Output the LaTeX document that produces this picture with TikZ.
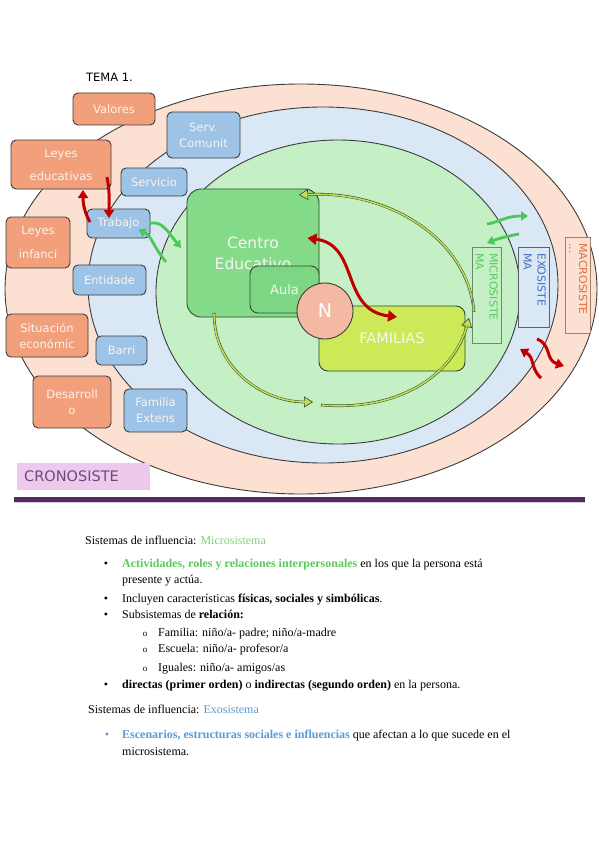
\documentclass[tikz,border=0pt]{standalone}
\usepackage{fontspec}
\setmainfont{Liberation Serif}
\newfontfamily\dv{DejaVu Sans}
\usetikzlibrary{arrows.meta}
\definecolor{peach}{HTML}{FCE1D3}
\definecolor{lblue}{HTML}{DAE7F5}
\definecolor{lgreen}{HTML}{C5F0C5}
\definecolor{orangebox}{HTML}{F2A07B}
\definecolor{bluebox}{HTML}{9DC3E6}
\definecolor{centrogreen}{HTML}{84DB8A}
\definecolor{aulagreen}{HTML}{7DD684}
\definecolor{famfill}{HTML}{CCEA58}
\definecolor{nfill}{HTML}{F3B9A2}
\definecolor{edge}{HTML}{3C3C3C}
\definecolor{darkred}{HTML}{C00000}
\definecolor{arrgreen}{HTML}{4CC85A}
\definecolor{cycfill}{HTML}{C3DE55}
\definecolor{cycdark}{HTML}{2E4A2E}
\definecolor{purplebar}{HTML}{5A2A68}
\definecolor{cronofill}{HTML}{EDC9EE}
\definecolor{cronotxt}{HTML}{6A4C78}
\definecolor{microtxt}{HTML}{5CC95C}
\definecolor{exotxt}{HTML}{4472C4}
\definecolor{macrotxt}{HTML}{E07040}
\definecolor{exoblue}{HTML}{5B9BD5}
\definecolor{boxtxt}{HTML}{FAF4EE}
\definecolor{microedge}{HTML}{6A8A6A}
\definecolor{exoedge}{HTML}{566274}
\definecolor{macroedge}{HTML}{A0806A}
\begin{document}
\begin{tikzpicture}[x=1pt,y=-1pt,
  obox/.style={draw=edge, line width=0.9pt, fill=orangebox, rounded corners=5pt, inner sep=0pt, align=center, text=boxtxt, font=\dv\fontsize{11.5}{16}\selectfont},
  bbox/.style={draw=edge, line width=0.9pt, fill=bluebox, rounded corners=5pt, inner sep=0pt, align=center, text=boxtxt, font=\dv\fontsize{11.5}{16}\selectfont},
  vbox/.style={line width=0.9pt, inner sep=0pt},
  vtext/.style={rotate=-90, anchor=north west, align=left, inner sep=0pt, font=\dv\fontsize{11}{14}\selectfont},
  redarr/.style={line width=3pt, darkred, -{Triangle[length=8pt,width=10pt]}},
  greenarr/.style={line width=2.8pt, arrgreen, -{Triangle[length=7pt,width=9pt]}},
  cyc/.style={line width=2.6pt, draw=cycdark, -{Triangle[length=9pt,width=11pt,fill=cycfill,line width=0.6pt]},
     postaction={draw=cycfill, line width=1.6pt, -, shorten >=8pt, shorten <=0.6pt}},
  txt/.style={anchor=base west, inner sep=0pt, font=\fontsize{12}{14}\selectfont},
  bul/.style={anchor=base, inner sep=0pt, font=\fontsize{12}{14}\selectfont},
]
\useasboundingbox (0,0) rectangle (599,848);
\fill[white] (0,0) rectangle (599,848);

% ellipses
\draw[fill=peach, draw=edge, line width=0.9pt] (301,289) ellipse [x radius=296, y radius=205];
\draw[fill=lblue, draw=edge, line width=0.9pt] (323,285) ellipse [x radius=235, y radius=178];
\draw[fill=lgreen, draw=edge, line width=0.9pt] (338,292) ellipse [x radius=182, y radius=152];

% title
\node[anchor=west, inner sep=0pt, font=\dv\fontsize{11.5}{14}\selectfont] (tema) at (86,77) {TEMA 1.};

% orange boxes
\node[obox, minimum width=82pt, minimum height=32pt] (valores) at (114,109) {Valores};
\node[obox, minimum width=100pt, minimum height=49pt, font=\dv\fontsize{11.5}{23}\selectfont] (leyesedu) at (61,164.5) {Leyes\\educativas};
\node[obox, minimum width=64pt, minimum height=51pt, font=\dv\fontsize{11.5}{24}\selectfont] (leyesinf) at (38,242.5) {Leyes\\infanci};
\node[obox, minimum width=82pt, minimum height=43pt] (situacion) at (47,335.5) {Situación\\económic};
\node[obox, minimum width=78pt, minimum height=52pt] (desarrollo) at (72,402) {Desarroll\\o};

% blue boxes
\node[bbox, minimum width=73pt, minimum height=46pt] (servcom) at (203.5,135) {Serv.\\Comunit};
\node[bbox, minimum width=66pt, minimum height=28pt] (servicio) at (154,182) {Servicio};
\node[bbox, minimum width=63pt, minimum height=29pt] (trabajo) at (118.5,223.5) {Trabajo};
\node[bbox, minimum width=73pt, minimum height=30pt] (entidade) at (109.5,280) {Entidade};
\node[bbox, minimum width=51pt, minimum height=29pt] (barri) at (121.5,350.5) {Barri};
\node[bbox, minimum width=63pt, minimum height=43pt] (famext) at (155.5,410.5) {Familia\\Extens};

% central boxes
\node[draw=cycdark, line width=0.9pt, fill=centrogreen, rounded corners=14pt, minimum width=132pt, minimum height=128pt, inner sep=0pt, align=center, text=boxtxt, font=\dv\fontsize{15.5}{21}\selectfont] (centro) at (253,253) {Centro\\Educativo};
\node[draw=cycdark, line width=0.9pt, fill=aulagreen, rounded corners=8pt, minimum width=69pt, minimum height=47pt, inner sep=0pt, text=boxtxt, font=\dv\fontsize{13}{15}\selectfont] (aula) at (284.5,289.5) {Aula};
\node[draw=cycdark, line width=0.9pt, fill=famfill, rounded corners=9pt, minimum width=146pt, minimum height=65pt, inner sep=0pt, text=boxtxt, font=\dv\fontsize{14.5}{16}\selectfont] (familias) at (392,338.5) {FAMILIAS};

% cycle arrows
\coordinate (cA1) at (214,313);
\coordinate (cA2) at (313,402);
\coordinate (cB1) at (321,405);
\coordinate (cB2) at (469,318);
\coordinate (cC1) at (474,312);
\coordinate (cC2) at (299,195);
\draw[cyc] (cA1) .. controls (214,370) and (265,402) .. (cA2);
\draw[cyc] (cB1) .. controls (405,412) and (455,370) .. (cB2);
\draw[cyc] (cC1) .. controls (468,240) and (390,190) .. (cC2);

\node[draw=edge, line width=0.9pt, fill=nfill, circle, minimum size=56pt, inner sep=0pt, text=white, font=\dv\fontsize{19}{20}\selectfont] (n) at (325,311) {N};

% vertical labels
\node[vbox, draw=microedge, minimum width=29pt, minimum height=96pt] (micro) at (486.5,295) {};
\begin{scope}
\clip (micro.north west) rectangle (micro.south east);
\node[vtext, text=microtxt] (microt) at (498,253) {MICROSISTE\\MA};
\end{scope}
\node[vbox, draw=exoedge, fill=lblue, minimum width=31pt, minimum height=80pt] (exo) at (533.5,287) {};
\begin{scope}
\clip (exo.north west) rectangle (exo.south east);
\node[vtext, text=exotxt] (exot) at (546,253) {EXOSISTE\\MA};
\end{scope}
\node[vbox, draw=macroedge, fill=peach, minimum width=25pt, minimum height=96pt] (macro) at (577.5,285) {};
\node[vtext, text=macrotxt, font=\dv\fontsize{11}{10}\selectfont] (macrot) at (587.5,243) {MACROSISTE\\...};

% red arrows
\coordinate (r1a) at (90,222);
\coordinate (r1b) at (83,190);
\coordinate (r2a) at (107,177);
\coordinate (r2b) at (109,218);
\draw[redarr] (r1a) .. controls (84,212) and (83,202) .. (r1b);
\draw[redarr] (r2a) .. controls (110,192) and (109,202) .. (r2b);
\draw[line width=3pt, darkred, {Triangle[length=9pt,width=11pt]}-{Triangle[length=9pt,width=11pt]}] ([shift={(-12,-15)}]centro.east) .. controls (360,245) and (340,310) .. ([shift={(5,-21.5)}]familias.center);
\coordinate (r3a) at (541,378);
\coordinate (r3b) at (520,349);
\coordinate (r4a) at (537,339);
\coordinate (r4b) at (564,366);
\draw[redarr] (r3a) .. controls (530,368) and (535,358) .. (r3b);
\draw[redarr] (r4a) .. controls (552,345) and (545,360) .. (r4b);

% green arrows
\coordinate (g1b) at (181,248);
\coordinate (g2a) at (166,262);
\draw[greenarr] ([xshift=-1pt]trabajo.east) .. controls (162,220) and (168,232) .. (g1b);
\draw[greenarr] (g2a) .. controls (152,245) and (152,236) .. ([shift={(20,6)}]trabajo.center);
\coordinate (g3a) at (487,224);
\coordinate (g3b) at (528,216);
\coordinate (g4a) at (519,234);
\coordinate (g4b) at (487,243);
\draw[greenarr] (g3a) .. controls (500,222) and (505,216) .. (g3b);
\draw[greenarr] (g4a) .. controls (508,236) and (500,238) .. (g4b);

% cronosistema
\node[fill=cronofill, minimum width=133pt, minimum height=27pt, inner sep=0pt, anchor=west] (crono) at (17,476.5) {};
\node[anchor=west, inner sep=0pt, text=cronotxt, font=\dv\fontsize{14.5}{16}\selectfont] (cronot) at (24,476.5) {CRONOSISTE};

% bar
\fill[purplebar] (14,497) rectangle (585,502);
\fill[gray!40] (14,502) rectangle (585,503);

% text
\node[txt] (t1) at (85,544) {Sistemas de influencia: \textcolor{microtxt!80!white}{Microsistema}};
\node[bul] (b1) at (106,567) {•};
\node[txt] (t2) at (122,567) {\textcolor{microtxt}{\textbf{Actividades, roles y relaciones interpersonales}} en los que la persona está};
\node[txt] (t3) at (122,583) {presente y actúa.};
\node[bul] (b2) at (106,602) {•};
\node[txt] (t4) at (122,602) {Incluyen características \textbf{físicas, sociales y simbólicas}.};
\node[bul] (b3) at (106,618) {•};
\node[txt] (t5) at (122,618) {Subsistemas de \textbf{relación:}};
\node[bul, font=\fontsize{9}{10}\selectfont] (s1) at (145,636) {o};
\node[txt] (t6) at (158,636) {Familia: niño/a- padre; niño/a-madre};
\node[bul, font=\fontsize{9}{10}\selectfont] (s2) at (145,652) {o};
\node[txt] (t7) at (158,652) {Escuela: niño/a- profesor/a};
\node[bul, font=\fontsize{9}{10}\selectfont] (s3) at (145,671) {o};
\node[txt] (t8) at (158,671) {Iguales: niño/a- amigos/as};
\node[bul] (b4) at (106,688) {•};
\node[txt] (t9) at (122,688) {\textbf{directas (primer orden)} o \textbf{indirectas (segundo orden)} en la persona.};
\node[txt] (t10) at (88,713) {Sistemas de influencia: \textcolor{exoblue}{Exosistema}};
\node[bul, text=exoblue] (b5) at (107,738) {•};
\node[txt] (t11) at (122,738) {\textcolor{exoblue}{\textbf{Escenarios, estructuras sociales e influencias}} que afectan a lo que sucede en el};
\node[txt] (t12) at (122,755) {microsistema.};
\end{tikzpicture}
\end{document}
